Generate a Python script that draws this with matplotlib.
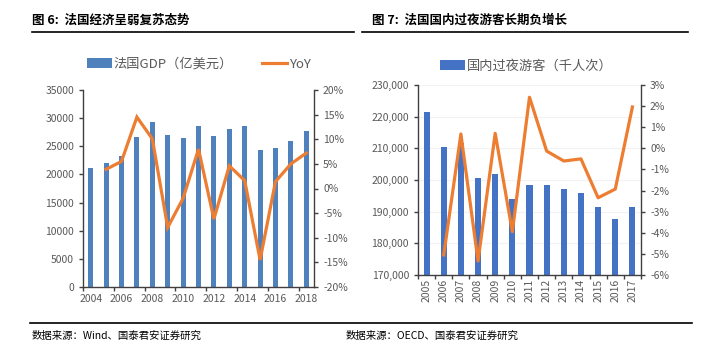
import numpy as np
import matplotlib
matplotlib.use("Agg")
import matplotlib.pyplot as plt
from matplotlib.ticker import FuncFormatter, MultipleLocator
from matplotlib.lines import Line2D

plt.rcParams['font.family'] = ['Noto Sans CJK SC', 'DejaVu Sans']

# Figure 6: France GDP
gdp_years = list(range(2004, 2019))
gdp = [21230, 22000, 23200, 26600, 29300, 27000, 26400, 28600, 26800, 28000, 28600, 24400, 24700, 25900, 27700]
yoy_years = list(range(2005, 2019))
gdp_yoy = [3.9, 5.5, 14.5, 10.1, -7.9, -2.0, 8.0, -6.2, 4.6, 1.6, -14.5, 1.4, 5.0, 7.2]

# Figure 7: domestic overnight tourists
tour_years = list(range(2005, 2018))
tourists = [221600, 210300, 211800, 200500, 201800, 193900, 198500, 198300, 197100, 196000, 191500, 187700, 191500]
tour_yoy_years = list(range(2006, 2018))
tour_yoy = [-5.05, 0.68, -5.34, 0.71, -3.95, 2.42, -0.13, -0.6, -0.5, -2.34, -1.93, 1.96]

W, H = 714, 362
fig = plt.figure(figsize=(W / 100, H / 100), dpi=100)

grey = '#595959'
spine_c = '#404040'
orange = '#ed7d31'


def px(x0, y0, x1, y1):
    return [x0 / W, 1 - y1 / H, (x1 - x0) / W, (y1 - y0) / H]


def style(ax, sides):
    for s in ['top', 'left', 'right', 'bottom']:
        ax.spines[s].set_visible(s in sides)
        ax.spines[s].set_color(spine_c)
        ax.spines[s].set_linewidth(1.0)
    ax.tick_params(colors=spine_c, labelcolor=grey, labelsize=7.5, length=3, width=1)


# titles and rules
fig.text(32 / W, 1 - 20 / H, '图 6:  法国经济呈弱复苏态势', fontsize=9, fontweight='bold', va='center')
fig.text(372 / W, 1 - 20 / H, '图 7:  法国国内过夜游客长期负增长', fontsize=9, fontweight='bold', va='center')
fig.add_artist(Line2D([32 / W, 354 / W], [1 - 31.5 / H] * 2, color='black', lw=1.2))
fig.add_artist(Line2D([362 / W, 688 / W], [1 - 31.5 / H] * 2, color='black', lw=1.2))
fig.add_artist(Line2D([30 / W, 692 / W], [1 - 323 / H] * 2, color='black', lw=1.2))
fig.text(32 / W, 1 - 336 / H, '数据来源：Wind、国泰君安证券研究', fontsize=7.5, va='center')
fig.text(346 / W, 1 - 336 / H, '数据来源：OECD、国泰君安证券研究', fontsize=7.5, va='center')

# ---- left chart ----
ax1 = fig.add_axes(px(83, 90, 314, 287))
x = np.arange(len(gdp_years))
bars1 = ax1.bar(x, gdp, width=0.33, color='#4f81bd', label='法国GDP（亿美元）', zorder=2)
ax1.set_ylim(0, 35000)
ax1.yaxis.set_major_locator(MultipleLocator(5000))
ax1.set_xlim(-0.5, len(gdp_years) - 0.5)
ax1.set_xticks(x[::2])
ax1.set_xticklabels([str(y) for y in gdp_years[::2]])
ax1.set_xticks(np.arange(-0.5, len(gdp_years), 2), minor=True)
style(ax1, ['left', 'bottom'])
ax1.tick_params(axis='x', which='major', length=0, pad=5)
ax1.tick_params(axis='x', which='minor', length=3, width=1, color=spine_c)

ax1r = ax1.twinx()
xl = [gdp_years.index(y) for y in yoy_years]
line1, = ax1r.plot(xl, gdp_yoy, color=orange, lw=2.3, label='YoY', solid_joinstyle='miter')
ax1r.set_ylim(-20, 20)
ax1r.yaxis.set_major_locator(MultipleLocator(5))
ax1r.yaxis.set_major_formatter(FuncFormatter(lambda v, p: f'{v:.0f}%'))
style(ax1r, ['right'])

fig.legend([bars1, line1], ['法国GDP（亿美元）', 'YoY'], loc='center', bbox_to_anchor=(199 / W, 1 - 64 / H),
           ncol=2, frameon=False, fontsize=9.5, handlelength=1.9, handleheight=0.7, columnspacing=2.2,
           labelcolor=grey, handletextpad=0.15)

# ---- right chart ----
ax2 = fig.add_axes(px(418, 85, 641, 275))
x2 = np.arange(len(tour_years))
bars2 = ax2.bar(x2, tourists, width=0.35, color='#4472c4', zorder=2)
ax2.set_ylim(170000, 230000)
ax2.yaxis.set_major_locator(MultipleLocator(10000))
ax2.yaxis.set_major_formatter(FuncFormatter(lambda v, p: f'{v:,.0f}'))
ax2.set_xlim(-0.5, len(tour_years) - 0.5)
ax2.set_xticks(x2)
ax2.set_xticklabels([str(y) for y in tour_years], rotation=90)
ax2.set_xticks(np.arange(-0.5, len(tour_years), 1), minor=True)
style(ax2, ['left', 'bottom'])
ax2.tick_params(axis='x', which='major', length=0, pad=3)
ax2.tick_params(axis='x', which='minor', length=3, width=1, color=spine_c)
ax2.yaxis.grid(True, color='#f2f2f2', lw=0.8, zorder=0)
ax2.set_axisbelow(True)

ax2r = ax2.twinx()
xt = [tour_years.index(y) for y in tour_yoy_years]
ax2r.plot(xt, tour_yoy, color=orange, lw=2.3)
ax2r.set_ylim(-6, 3)
ax2r.yaxis.set_major_locator(MultipleLocator(1))
ax2r.yaxis.set_major_formatter(FuncFormatter(lambda v, p: f'{v:.0f}%'))
style(ax2r, ['right'])

fig.legend([bars2], ['国内过夜游客（千人次）'], loc='center', bbox_to_anchor=(526 / W, 1 - 66 / H),
           frameon=False, fontsize=9.5, handlelength=1.9, handleheight=0.7, labelcolor=grey,
           handletextpad=0.15)

fig.savefig('out.png', dpi=100)
